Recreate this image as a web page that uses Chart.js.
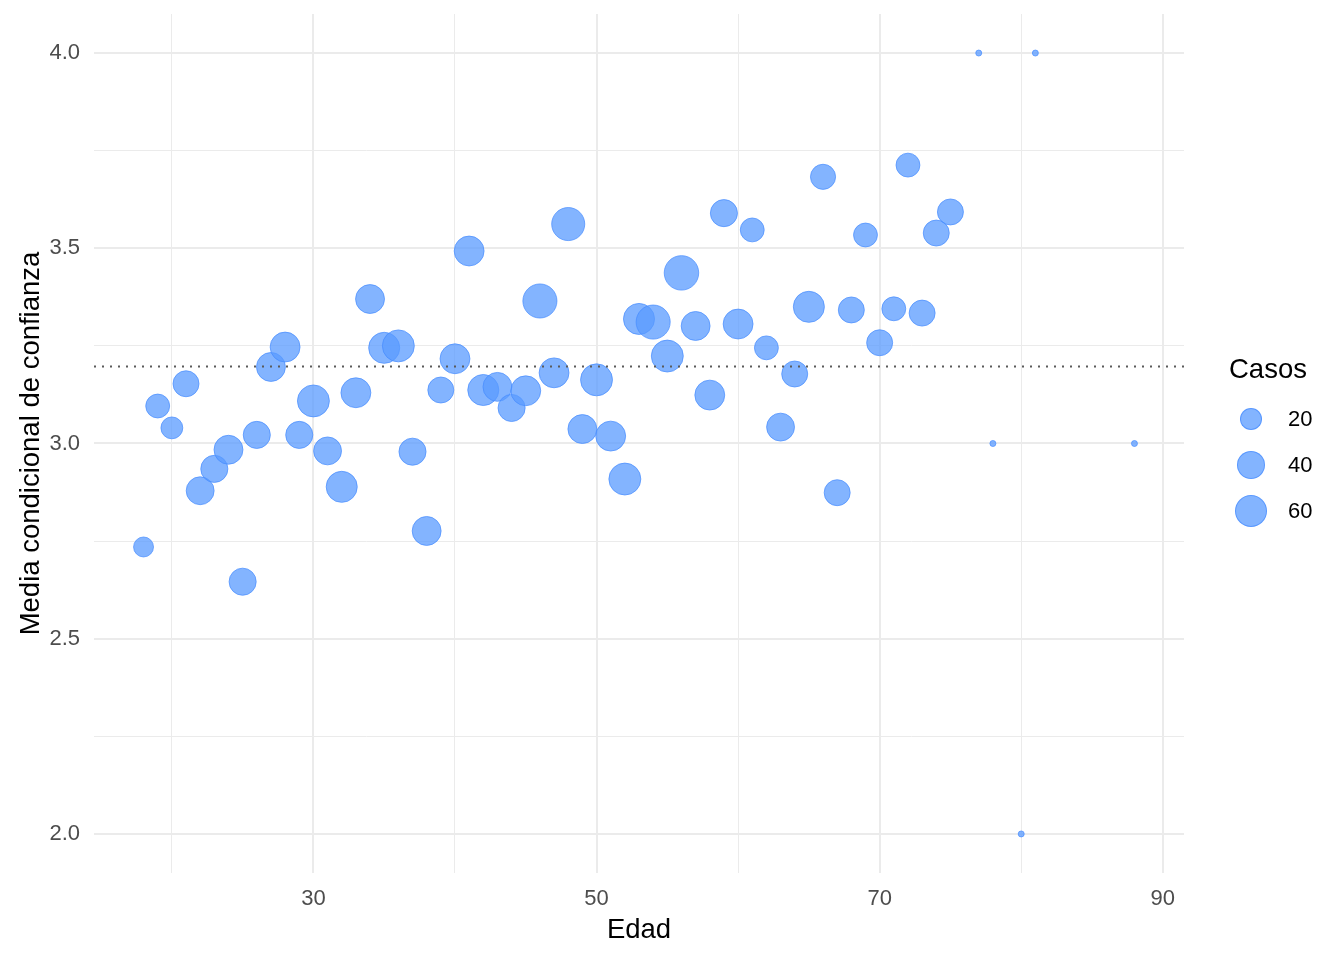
<!DOCTYPE html>
<html>
<head>
<meta charset="utf-8">
<script src="https://cdn.jsdelivr.net/npm/chart.js@4.4.1/dist/chart.umd.min.js"></script>
<style>
  html, body { margin: 0; padding: 0; background: #fff; }
  #wrap { position: relative; width: 1344px; height: 960px; font-family: "Liberation Sans", Arial, sans-serif; }
  #legend .titulo { position: absolute; left: 1229px; top: 353px; font-size: 27.5px; color: #000; line-height: 32px; }
  #legend .item { position: absolute; left: 1220px; width: 120px; height: 40px; }
  #legend .punto { position: absolute; border-radius: 50%; box-sizing: border-box; }
  #legend .etiqueta { position: absolute; left: 68px; top: 0; line-height: 40px; font-size: 22px; color: #000; }
</style>
</head>
<body>
<div id="wrap">
  <canvas id="grafico" width="1344" height="960"></canvas>
  <div id="legend"></div>
</div>
<script>
// Edad, media condicional y numero de casos
const edades = [18, 19, 20, 21, 22, 23, 24, 25, 26, 27, 28, 29, 30, 31, 32, 33, 34, 35, 36, 37,
                38, 39, 40, 41, 42, 43, 44, 45, 46, 47, 48, 49, 50, 51, 52, 53, 54, 55, 56, 57,
                58, 59, 60, 61, 62, 63, 64, 65, 66, 67, 68, 69, 70, 71, 72, 73, 74, 75, 77, 78,
                80, 81, 88];
const medias = [2.735, 3.096, 3.040, 3.153, 2.879, 2.935, 2.984, 2.646, 3.022, 3.196,
                3.247, 3.022, 3.109, 2.981, 2.889, 3.130, 3.370, 3.245, 3.250, 2.979,
                2.776, 3.137, 3.217, 3.493, 3.137, 3.145, 3.091, 3.135, 3.365, 3.181,
                3.562, 3.037, 3.163, 3.019, 2.909, 3.319, 3.311, 3.224, 3.437, 3.301,
                3.124, 3.590, 3.306, 3.547, 3.245, 3.042, 3.178, 3.350, 3.683, 2.874,
                3.342, 3.534, 3.258, 3.345, 3.713, 3.334, 3.539, 3.593, 4.0, 3.0,
                2.0, 4.0, 3.0];
const casos = [18, 29, 23, 36, 43, 40, 47, 40, 40, 47, 51, 40, 60, 43, 56, 51, 47, 56, 60, 40,
               47, 36, 51, 51, 56, 47, 40, 51, 70, 51, 65, 47, 60, 51, 60, 56, 70, 60, 72, 47,
               51, 40, 51, 29, 29, 43, 36, 56, 33, 36, 36, 29, 36, 29, 29, 36, 36, 36, 1, 1,
               1, 1, 1];

const mediaGeneral = 3.197;
const legendCasos = [20, 40, 60];

const xTicks = [20, 30, 40, 50, 60, 70, 80, 90];
const xMayores = [30, 50, 70, 90];
const yTicks = [2.0, 2.25, 2.5, 2.75, 3.0, 3.25, 3.5, 3.75, 4.0];
const yMayores = [2.0, 2.5, 3.0, 3.5, 4.0];

const relleno = 'rgba(90, 155, 255, 0.75)';
const borde = 'rgba(70, 140, 255, 0.7)';
const fuente = '"Liberation Sans", Arial, sans-serif';

// tamano de punto segun numero de casos (escala de area)
function diametro(n) {
  return 7 + 3.38 * Math.sqrt(n - 1);
}

const puntos = edades.map((e, i) => ({ x: e, y: medias[i] }));

new Chart(document.getElementById('grafico'), {
  type: 'scatter',
  data: {
    datasets: [
      {
        type: 'line',
        data: [{ x: 14.5, y: mediaGeneral }, { x: 91.5, y: mediaGeneral }],
        borderColor: '#5a5a5a',
        borderWidth: 2,
        borderDash: [2, 6],
        pointRadius: 0,
        order: 0
      },
      {
        data: puntos,
        backgroundColor: relleno,
        borderColor: borde,
        borderWidth: 1,
        pointRadius: ctx => diametro(casos[ctx.dataIndex]) / 2 - 0.5,
        order: 1
      }
    ]
  },
  options: {
    responsive: false,
    animation: false,
    events: [],
    devicePixelRatio: 1,
    layout: { autoPadding: false, padding: { top: 14, right: 160, bottom: 0, left: 0 } },
    plugins: { legend: { display: false }, tooltip: { enabled: false } },
    scales: {
      x: {
        type: 'linear',
        min: 14.5,
        max: 91.5,
        afterBuildTicks: s => { s.ticks = xTicks.map(v => ({ value: v })); },
        afterFit: s => { s.height = 87; },
        border: { display: false },
        grid: {
          color: '#EBEBEB',
          lineWidth: ctx => xMayores.includes(ctx.tick.value) ? 2 : 1,
          drawTicks: false
        },
        ticks: {
          autoSkip: false,
          maxRotation: 0,
          padding: 13,
          color: '#4D4D4D',
          font: { family: fuente, size: 22 },
          callback: v => xMayores.includes(v) ? String(v) : ''
        },
        title: {
          display: true,
          text: 'Edad',
          color: '#000',
          font: { family: fuente, size: 27.5 },
          padding: { top: 0, bottom: 13 }
        }
      },
      y: {
        type: 'linear',
        min: 1.9,
        max: 4.1,
        afterBuildTicks: s => { s.ticks = yTicks.map(v => ({ value: v })); },
        afterFit: s => { s.width = 94; s.paddingTop = 0; s.paddingBottom = 0; },
        border: { display: false },
        grid: {
          color: '#EBEBEB',
          lineWidth: ctx => yMayores.includes(ctx.tick.value) ? 2 : 1,
          drawTicks: false
        },
        ticks: {
          autoSkip: false,
          padding: 14,
          color: '#4D4D4D',
          font: { family: fuente, size: 22 },
          callback: v => yMayores.includes(v) ? v.toFixed(1) : ''
        },
        title: {
          display: true,
          text: 'Media condicional de confianza',
          color: '#000',
          font: { family: fuente, size: 27.5 },
          padding: { top: 15, bottom: 0 }
        }
      }
    }
  }
});

// leyenda de tamanos
const leyenda = document.getElementById('legend');
const titulo = document.createElement('div');
titulo.className = 'titulo';
titulo.textContent = 'Casos';
leyenda.appendChild(titulo);
legendCasos.forEach((n, i) => {
  const item = document.createElement('div');
  item.className = 'item';
  item.style.top = (399 + i * 46) + 'px';
  const d = diametro(n);
  const p = document.createElement('div');
  p.className = 'punto';
  p.style.width = d + 'px';
  p.style.height = d + 'px';
  p.style.left = (31 - d / 2) + 'px';
  p.style.top = (20 - d / 2) + 'px';
  p.style.background = relleno;
  p.style.border = '1px solid ' + borde;
  const t = document.createElement('span');
  t.className = 'etiqueta';
  t.textContent = n;
  item.appendChild(p);
  item.appendChild(t);
  leyenda.appendChild(item);
});
</script>
</body>
</html>
